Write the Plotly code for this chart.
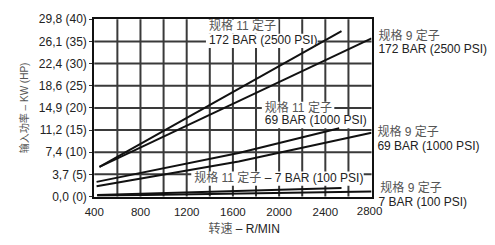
import plotly.graph_objects as go

# ---- data (input power in HP vs. speed in rpm) ----
rpm_11_172 = [445, 1400, 2000, 2540]
hp_11_172 = [6.7, 20.6, 29.4, 37.3]
rpm_9_172 = [445, 1600, 2800]
hp_9_172 = [6.7, 20.9, 35.7]
rpm_11_69 = [420, 1650, 2520]
hp_11_69 = [3.3, 9.8, 15.4]
rpm_9_69 = [420, 1650, 2800]
hp_9_69 = [2.3, 7.9, 14.4]
rpm_11_7 = [425, 2540]
hp_11_7 = [0.35, 1.9]
rpm_9_7 = [425, 2800]
hp_9_7 = [0.2, 1.15]

y_hp_ticks = [0, 5, 10, 15, 20, 25, 30, 35, 40]
y_kw_labels = ["0,0", "3,7", "7,4", "11,2", "14,9", "18,6", "22,4", "26,1", "29,8"]
x_grid = list(range(400, 2801, 200))
x_labels = ["400", "800", "1200", "1600", "2000", "2400"]
x_last_label = "2800"

# ---- geometry (figure pixels) ----
W, H = 495, 245
PL, PR, PT, PB = 86, 369, 13, 201          # plot area edges in pixels
X0, X1, Y0, Y1 = 400, 2800, 0, 40


def xp(px):
    return px / W


def yp(py):
    return (H - py) / H


GRID = "#3a3a3a"
FONT = "Liberation Sans, Arial, Noto Sans CJK SC, sans-serif"
fig = go.Figure()

# grid lines at the axis tick positions (lowest layer)
for v in x_grid[1:-1]:
    fig.add_shape(type="line", xref="x", yref="paper", x0=v, x1=v,
                  y0=yp(PB), y1=yp(PT), line=dict(color=GRID, width=2),
                  layer="below")
for v in y_hp_ticks[1:-1]:
    fig.add_shape(type="line", xref="paper", yref="y", x0=xp(PL), x1=xp(PR),
                  y0=v, y1=v, line=dict(color=GRID, width=2), layer="below")

# white boxes behind the in-plot labels (hide the grid)
boxes = [(200, 13.5, 274, 28.5), (200, 28.5, 314, 43.5),
         (257, 100.5, 331, 114.5), (257, 114.5, 365, 128.5),
         (185, 174.5, 361, 189.5)]
for bx0, by0, bx1, by1 in boxes:
    fig.add_shape(type="rect", xref="paper", yref="paper",
                  x0=xp(bx0), x1=xp(bx1), y0=yp(by1), y1=yp(by0),
                  fillcolor="white", line=dict(width=0), layer="below")

series = [(rpm_11_172, hp_11_172), (rpm_9_172, hp_9_172),
          (rpm_11_69, hp_11_69), (rpm_9_69, hp_9_69),
          (rpm_11_7, hp_11_7), (rpm_9_7, hp_9_7)]
for xs, ys in series:
    fig.add_trace(go.Scatter(x=xs, y=ys, mode="lines",
                             line=dict(color="#111", width=2),
                             hoverinfo="skip", showlegend=False))

# text labels, placed on a full-figure pixel overlay axis pair
CN = "<span style='color:#555'>{}</span>"
labels = [
    (CN.format("规格 11 定子"), 203, 21, "middle right", 12),
    ("172 BAR (2500 PSI)", 203, 36, "middle right", 12),
    (CN.format("规格 11 定子"), 260, 108, "middle right", 12),
    ("69 BAR (1000 PSI)", 260, 121, "middle right", 12),
    (CN.format("规格 11 定子") + " – 7 BAR (100 PSI)", 188, 182, "middle right", 12),
    (CN.format("规格 9 定子"), 376, 32, "middle right", 12),
    ("172 BAR (2500 PSI)", 376, 46, "middle right", 12),
    (CN.format("规格 9 定子"), 375, 134, "middle right", 12),
    ("69 BAR (1000 PSI)", 375, 149, "middle right", 12),
    (CN.format("规格 9 定子"), 378, 193, "middle right", 12),
    ("7 BAR (100 PSI)", 376, 208, "middle right", 12),
    (x_last_label, 367, 217.5, "middle center", 11.5),
    (CN.format("转速") + " – R/MIN", 239, 236.5, "middle center", 12),
]
fig.add_trace(go.Scatter(
    x=[l[1] for l in labels], y=[l[2] for l in labels],
    text=[l[0] for l in labels], textposition=[l[3] for l in labels],
    mode="text", cliponaxis=False, hoverinfo="skip", showlegend=False,
    xaxis="x2", yaxis="y2",
    textfont=dict(family=FONT, size=[l[4] for l in labels], color="#222")))

x_ticktext = [str(v) if str(v) in x_labels else "" for v in x_grid]
y_ticktext = [f"{k} ({h})" for k, h in zip(y_kw_labels, y_hp_ticks)]

fig.update_layout(
    width=W, height=H,
    margin=dict(l=0, r=0, t=0, b=0),
    plot_bgcolor="rgba(0,0,0,0)", paper_bgcolor="white",
    font=dict(family=FONT, size=12, color="#222"),
    showlegend=False,
    xaxis=dict(domain=[xp(PL), xp(PR)], anchor="y",
               range=[X0, X1], tickmode="array", tickvals=x_grid,
               ticktext=x_ticktext, showgrid=False, zeroline=False,
               showline=True, linecolor="#111", linewidth=2, mirror=True,
               ticks="outside", ticklen=4, tickcolor="white",
               tickfont=dict(size=11.5, color="#222")),
    yaxis=dict(domain=[yp(PB), yp(PT)], anchor="x",
               range=[Y0, Y1], tickmode="array", tickvals=y_hp_ticks,
               ticktext=y_ticktext, showgrid=False, zeroline=False,
               showline=True, linecolor="#111", linewidth=2, mirror=True,
               ticks="outside", ticklen=3, tickcolor="#333",
               tickfont=dict(size=12, color="#222"),
               title=dict(text="输入功率 – KW (HP)", standoff=8,
                          font=dict(size=10, color="#555"))),
    xaxis2=dict(domain=[0, 1], anchor="y2", range=[0, W], visible=False,
                fixedrange=True),
    yaxis2=dict(domain=[0, 1], anchor="x2", range=[H, 0], visible=False,
                fixedrange=True),
)

fig.write_html("out.html", config={"displayModeBar": False},
               post_script="document.body.style.margin='0';")
